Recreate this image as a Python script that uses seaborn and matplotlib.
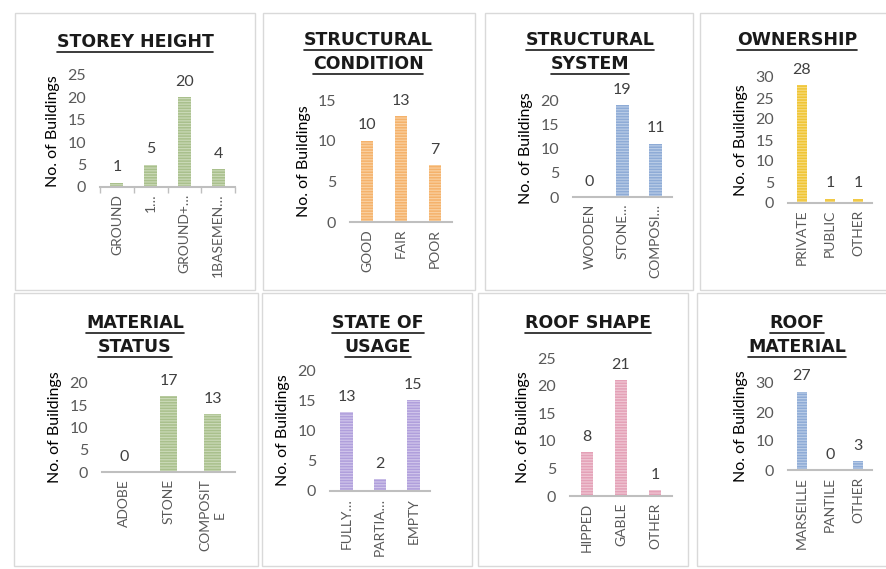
import numpy as np
import pandas as pd
import seaborn as sns
import matplotlib.pyplot as plt
from matplotlib.patches import Rectangle
from matplotlib.lines import Line2D

sns.set_theme(style="white")
plt.rcParams['font.family'] = ['Lato', 'DejaVu Sans']
plt.rcParams['hatch.linewidth'] = 0.9

# ---- data ----
storey_cats = ["GROUND", "1…", "GROUND+…", "1BASEMEN…"]
storey_vals = [1, 5, 20, 4]
cond_cats = ["GOOD", "FAIR", "POOR"]
cond_vals = [10, 13, 7]
system_cats = ["WOODEN", "STONE…", "COMPOSI…"]
system_vals = [0, 19, 11]
owner_cats = ["PRIVATE", "PUBLIC", "OTHER"]
owner_vals = [28, 1, 1]
material_cats = ["ADOBE", "STONE", "COMPOSIT\nE"]
material_vals = [0, 17, 13]
usage_cats = ["FULLY…", "PARTIA…", "EMPTY"]
usage_vals = [13, 2, 15]
shape_cats = ["HIPPED", "GABLE", "OTHER"]
shape_vals = [8, 21, 1]
roof_cats = ["MARSEILLE", "PANTILE", "OTHER"]
roof_vals = [27, 0, 3]

W, H = 886, 569
fig = plt.figure(figsize=(W / 100, H / 100), dpi=100)
fig.patch.set_facecolor("white")

# panel frames (pixel coords: left, top, right, bottom)
frames = [(15, 13, 255, 290), (263, 13, 475, 290), (485, 13, 693, 290), (700, 13, 890, 290),
          (14, 293, 258, 566), (262, 293, 472, 566), (478, 293, 688, 566), (697, 293, 890, 566)]
for l, t, r, b in frames:
    fig.patches.append(Rectangle((l / W, 1 - b / H), (r - l) / W, (b - t) / H,
                                 transform=fig.transFigure, fill=False,
                                 edgecolor="#d9d9d9", linewidth=1.0))

# (title lines, title centre x, title y of first line, cats, vals, colour, hatch colour,
#  axes left, top, right, bottom in px, ymax, ystep, category tickmarks)
panels = [
    (["STOREY HEIGHT"], 135, 42, storey_cats, storey_vals, "#a9c08c", "#c9d8b6",
     100, 75, 235, 187, 25, 5, True),
    (["STRUCTURAL", "CONDITION"], 368, 40, cond_cats, cond_vals, "#f5b26b", "#f9cf9f",
     350, 100, 452, 222, 15, 5, False),
    (["STRUCTURAL", "SYSTEM"], 590, 40, system_cats, system_vals, "#8eabd6", "#b8cbe6",
     573, 100, 672, 197, 20, 5, False),
    (["OWNERSHIP"], 797, 40, owner_cats, owner_vals, "#f0c535", "#f6da7a",
     788, 77, 872, 203, 30, 5, False),
    (["MATERIAL", "STATUS"], 135, 323, material_cats, material_vals, "#a9c08c", "#c9d8b6",
     102, 383, 235, 472, 20, 5, False),
    (["STATE OF", "USAGE"], 378, 323, usage_cats, usage_vals, "#b09fdc", "#cfc4ea",
     330, 370, 430, 491, 20, 5, False),
    (["ROOF SHAPE"], 588, 323, shape_cats, shape_vals, "#e4a1b7", "#efc5d3",
     570, 358, 672, 496, 25, 5, False),
    (["ROOF", "MATERIAL"], 797, 323, roof_cats, roof_vals, "#8eabd6", "#b8cbe6",
     788, 383, 872, 470, 30, 10, False),
]

title_texts = []
for (tlines, tx, ty, cats, vals, col, hcol, l, t, r, b, ymax, ystep, tickmarks) in panels:
    ax = fig.add_axes([l / W, 1 - b / H, (r - l) / W, (b - t) / H])
    df = pd.DataFrame({"cat": cats, "val": vals})
    sns.barplot(data=df, x="cat", y="val", color=col, width=0.38, ax=ax,
                saturation=1, hatch="------")
    for p in ax.patches:
        p.set_edgecolor(hcol)
        p.set_linewidth(0)
    ax.bar_label(ax.containers[0], padding=6, fontsize=11.5, color="#404040")
    ax.set_ylim(0, ymax)
    ax.set_xlim(-0.5, len(cats) - 0.5)
    ax.set_yticks(np.arange(0, ymax + 1, ystep))
    ax.tick_params(axis="y", labelsize=11.5, labelcolor="#595959", length=0, pad=10)
    ax.tick_params(axis="x", labelsize=10, labelcolor="#595959", length=0, pad=5,
                   labelrotation=90)
    for lab in ax.get_xticklabels():
        lab.set_verticalalignment("top")
        lab.set_horizontalalignment("center")
        lab.set_multialignment("center")
    if tickmarks:
        ax.set_xticks(np.arange(-0.5, len(cats)), minor=True)
        ax.tick_params(axis="x", which="minor", length=4, color="#bfbfbf", width=1,
                       direction="out", bottom=True)
    ax.set_xlabel("")
    ax.set_ylabel("No. of Buildings", fontsize=11.5, color="black", labelpad=5)
    for s in ["top", "right", "left"]:
        ax.spines[s].set_visible(False)
    ax.spines["bottom"].set_color("#bfbfbf")
    ax.spines["bottom"].set_linewidth(1.5)
    ax.patch.set_alpha(0)
    for i, line in enumerate(tlines):
        txt = fig.text(tx / W, 1 - (ty + i * 24) / H, line, ha="center", va="center",
                       fontsize=12.5, fontweight="bold", color="#1a1a1a",
                       family=["DejaVu Sans"])
        title_texts.append(txt)

# underline the titles
fig.canvas.draw()
renderer = fig.canvas.get_renderer()
for txt in title_texts:
    bb = txt.get_window_extent(renderer)
    y = bb.y0 - 1
    fig.add_artist(Line2D([bb.x0 / W, bb.x1 / W], [y / H, y / H],
                          transform=fig.transFigure, color="#1a1a1a", linewidth=1.2))

plt.savefig("out.png", dpi=100)
